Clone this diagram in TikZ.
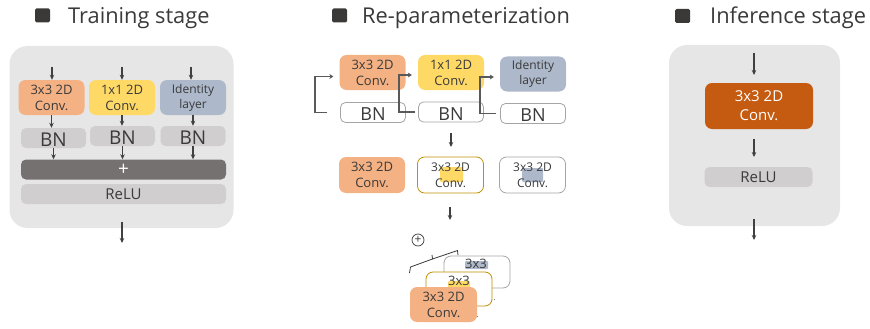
\documentclass[tikz,border=0pt]{standalone}
\usepackage{fontspec}
\setmainfont{Open Sans}
\usetikzlibrary{arrows.meta,calc}
\definecolor{txt}{HTML}{3A3A3A}
\definecolor{arrc}{HTML}{404040}
\definecolor{brkc}{HTML}{595959}
\definecolor{bgc}{HTML}{E7E6E6}
\definecolor{corange}{HTML}{F4B183}
\definecolor{cyellow}{HTML}{FFD966}
\definecolor{cblue}{HTML}{ADB9CA}
\definecolor{cgray}{HTML}{D0CECE}
\definecolor{cplus}{HTML}{767171}
\definecolor{cdark}{HTML}{C55A11}
\definecolor{cgold}{HTML}{BF9000}
\definecolor{cborder}{HTML}{A5A5A5}
\definecolor{csq}{HTML}{3B3838}
\begin{document}
\begin{tikzpicture}[x=1pt,y=-1pt,
  bgbox/.style={fill=bgc, rounded corners=18pt, inner sep=0pt},
  blk/.style={rounded corners=7pt, minimum width=66pt, minimum height=35pt, inner sep=0pt,
    align=center, text=txt, font=\fontsize{13}{16}\selectfont},
  bnbox/.style={rounded corners=5pt, minimum width=65pt, minimum height=20pt, inner sep=0pt,
    text=txt, font=\fontsize{19}{20}\selectfont, text height=16pt, text depth=-2pt},
  bar/.style={rounded corners=5pt, minimum width=205pt, minimum height=20pt, inner sep=0pt},
  hl/.style={inner sep=0pt, rounded corners=1pt},
  arr/.style={draw=arrc, line width=1.1pt, -{Stealth[length=5pt,width=4.5pt]}},
  brk/.style={draw=brkc, line width=1.8pt, -{Stealth[length=4pt,width=5pt]}},
  ttl/.style={anchor=base west, text=txt, inner sep=0pt, font=\fontsize{21.8}{24}\selectfont},
  sq/.style={fill=csq, rounded corners=1.5pt, minimum width=15pt, minimum height=14pt, inner sep=0pt}
]
\useasboundingbox (0,0) rectangle (870,329);

% ---------------- titles ----------------
\node[sq] (sq1) at (42.5,15.5) {};
\node[ttl] (title1) at (68,24) {Training stage};
\node[sq] (sq2) at (339.5,15.5) {};
\node[ttl] (title2) at (362,24) {Re-parameterization};
\node[sq] (sq3) at (682.5,16) {};
\node[ttl] (title3) at (710,24) {Inference stage};

% ---------------- training stage ----------------
\node[bgbox, minimum width=224pt, minimum height=182pt] (tbg) at (121.5,137) {};
\node[blk, fill=corange] (tc1) at (51.5,97.5) {3x3 2D\\Conv.};
\node[blk, fill=cyellow] (tc2) at (122,97.5) {1x1 2D\\Conv.};
\node[blk, fill=cblue, font=\fontsize{12}{15}\selectfont] (tc3) at (193,97.5) {Identity\\layer};
\node[bnbox, fill=cgray] (tb1) at (53.5,138) {BN};
\node[bnbox, fill=cgray] (tb2) at (122.5,136) {BN};
\node[bnbox, fill=cgray] (tb3) at (193,136) {BN};
\node[bar, fill=cplus, text=white, font=\fontsize{19}{20}\selectfont] (tplus) at (123.5,169.5) {+};
\node[bar, fill=cgray, text=txt, font=\fontsize{15}{16}\selectfont] (trelu) at (123.5,194) {ReLU};

\coordinate (ti1) at (52,67);
\coordinate (ti2) at (122,67);
\coordinate (ti3) at (191,67);
\draw[arr] (ti1) -- (ti1 |- tc1.north);
\draw[arr] (ti2) -- (ti2 |- tc2.north);
\draw[arr] (ti3) -- (ti3 |- tc3.north);
\draw[arr] (tc1.south) -- (tc1.south |- tb1.north);
\draw[arr] (tc2.south) -- (tc2.south |- tb2.north);
\draw[arr] (tc3.south) -- (tc3.south |- tb3.north);
\draw[arr] (tb1.south) -- (tb1.south |- tplus.north);
\draw[arr] (tb2.south) -- (tb2.south |- tplus.north);
\draw[arr] (tb3.south) -- (tb3.south |- tplus.north);
\coordinate (to1) at (122,222);
\coordinate (to2) at (122,243);
\draw[arr] (to1) -- (to2);

% ---------------- re-parameterization ----------------
\node[blk, fill=corange] (r1) at (372.5,72.5) {3x3 2D\\Conv.};
\node[blk, fill=cyellow] (r2) at (451,72.5) {1x1 2D\\Conv.};
\node[blk, fill=cblue, font=\fontsize{12}{15}\selectfont] (r3) at (533,74) {Identity\\layer};
\node[bnbox, draw=cborder, line width=0.8pt, fill=white, font=\fontsize{18}{20}\selectfont] (rb1) at (373,112.5) {BN};
\node[bnbox, draw=cborder, line width=0.8pt, fill=white, font=\fontsize{18}{20}\selectfont] (rb2) at (451,112) {BN};
\node[bnbox, draw=cborder, line width=0.8pt, fill=white, font=\fontsize{18}{20}\selectfont] (rb3) at (533,113.5) {BN};

% BN folded back into each branch
\draw[brk] ([xshift=-13pt]rb1.west) -- ++(-12,0) |- ([shift={(-6,4)}]r1.west);
\draw[brk] ([xshift=-3pt]rb2.west) -- ++(-16,0) |- ([shift={(-6,2.5)}]r2.west);
\draw[brk] ([xshift=-4pt]rb3.west) -- ++(-16,0) |- ([shift={(-6,3)}]r3.west);

\coordinate (ra1) at (451,133);
\coordinate (ra2) at (451,147);
\draw[arr] (ra1) -- (ra2);

\node[blk, fill=corange, minimum height=36pt] (s1) at (372,175) {3x3 2D\\Conv.};
\node[hl, fill=cyellow, minimum width=23pt, minimum height=15pt] (hy) at (451.5,174.5) {};
\node[hl, fill=cblue, minimum width=21pt, minimum height=14pt] (hb) at (532.5,175) {};
\node[blk, draw=cgold, line width=0.8pt, minimum height=36pt, font=\fontsize{12}{16}\selectfont] (s2) at (450.5,175) {3x3 2D\\Conv.};
\node[blk, draw=cborder, line width=0.8pt, minimum height=36pt, font=\fontsize{12}{16}\selectfont] (s3) at (532.5,175) {3x3 2D\\Conv.};

\coordinate (rc1) at (450,207);
\coordinate (rc2) at (450,220);
\draw[arr] (rc1) -- (rc2);

% summation of the three kernels
\node[circle, draw=txt, line width=0.7pt, minimum size=12pt, inner sep=0pt,
      font=\fontsize{12}{12}\selectfont, text=txt] (sum) at (418,240) {+};
\coordinate (bl0) at (409.5,273);
\coordinate (bl1) at (410.5,267);
\coordinate (bm0) at (432.5,259);
\coordinate (bm1) at (432,255);
\coordinate (br1) at (457.5,250.5);
\coordinate (br0) at (458,255);
\draw[draw=txt, line width=0.8pt, line join=round] (bl0) -- (bl1) -- (bm0) -- (br1) -- (br0);
\draw[draw=txt, line width=0.8pt] (bm0) -- (bm1);

\node[blk, draw=cborder, fill=white, line width=0.8pt, minimum height=32pt] (k3) at (477,272) {};
\node[hl, fill=cblue, minimum width=23pt, minimum height=8pt] (k3h) at (476.5,265) {};
\node[text=txt, inner sep=0pt, font=\fontsize{13}{14}\selectfont] (k3t) at (476,264) {3x3};
\node[blk, draw=cgold, fill=white, line width=0.8pt, minimum height=34pt] (k2) at (459,289) {};
\node[hl, fill=cyellow, minimum width=22pt, minimum height=7pt] (k2h) at (459,284.5) {};
\node[text=txt, inner sep=0pt, font=\fontsize{13}{14}\selectfont] (k2t) at (459,281) {3x3};
\node[blk, fill=corange, minimum width=67pt] (k1) at (443.5,304.5) {3x3 2D\\Conv.};
\node[text=txt, inner sep=0pt, font=\fontsize{8}{8}\selectfont] (d1) at (494.5,300) {.};
\node[text=txt, inner sep=0pt, font=\fontsize{8}{8}\selectfont] (d2) at (477.5,317) {.};

% ---------------- inference stage ----------------
\node[bgbox, minimum width=171pt, minimum height=181pt] (ibg) at (754.5,135.5) {};
\node[blk, fill=cdark, text=white, minimum width=108pt, minimum height=46pt,
      font=\fontsize{15}{19}\selectfont] (ic) at (759,106) {3x3 2D\\Conv.};
\node[bnbox, fill=cgray, minimum width=108pt, font=\fontsize{15}{16}\selectfont,
      text height=11pt, text depth=0pt] (irelu) at (758.5,177) {ReLU};
\coordinate (ii1) at (754,53);
\coordinate (ii2) at (754,75);
\draw[arr] (ii1) -- (ii2);
\coordinate (im1) at (754,139);
\coordinate (im2) at (754,157);
\draw[arr] (im1) -- (im2);
\coordinate (io1) at (754,219);
\coordinate (io2) at (754,240);
\draw[arr] (io1) -- (io2);
\end{tikzpicture}
\end{document}
